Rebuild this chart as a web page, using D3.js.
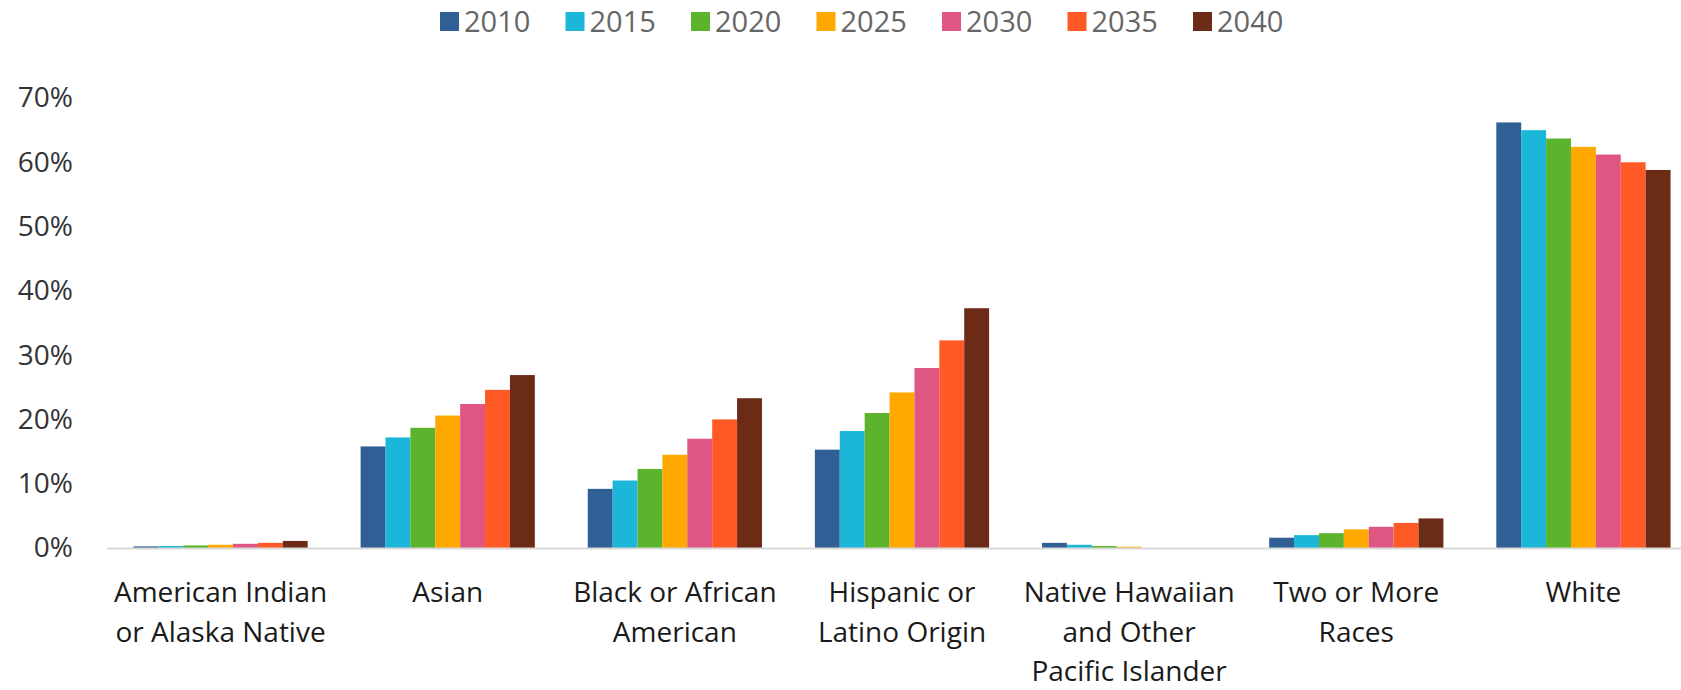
<!DOCTYPE html>
<html>
<head>
<meta charset="utf-8">
<script src="https://cdn.jsdelivr.net/npm/d3@7"></script>
<style>
  html, body { margin: 0; padding: 0; background: #fff; }
  svg { display: block; font-family: "Open Sans", sans-serif; }
</style>
</head>
<body>
<svg id="chart" width="1681" height="690"></svg>
<script>
const categories = [
  ["American Indian", "or Alaska Native"],
  ["Asian"],
  ["Black or African", "American"],
  ["Hispanic or", "Latino Origin"],
  ["Native Hawaiian", "and Other", "Pacific Islander"],
  ["Two or More", "Races"],
  ["White"]
];
const years = ["2010", "2015", "2020", "2025", "2030", "2035", "2040"];
const colors = ["#305f96", "#1bb6d8", "#5bb42b", "#ffa800", "#e05683", "#ff5a25", "#6c2b16"];
// values in percent, one array per category, ordered by year
const americanIndian = [0.25, 0.3, 0.4, 0.5, 0.65, 0.8, 1.1];
const asian = [15.8, 17.2, 18.7, 20.6, 22.4, 24.6, 26.9];
const black = [9.2, 10.5, 12.3, 14.5, 17.0, 20.0, 23.3];
const hispanic = [15.3, 18.2, 21.0, 24.2, 28.0, 32.3, 37.3];
const nativeHawaiian = [0.8, 0.5, 0.3, 0.2, 0, 0, 0];
const twoOrMore = [1.6, 2.0, 2.3, 2.9, 3.3, 3.9, 4.6];
const white = [66.2, 65.0, 63.7, 62.4, 61.2, 60.0, 58.8];
const yTicks = [0, 10, 20, 30, 40, 50, 60, 70];

const seriesByCategory = [americanIndian, asian, black, hispanic, nativeHawaiian, twoOrMore, white];
const catKeys = categories.map(c => c.join(" "));

const svg = d3.select("#chart");
const x0 = d3.scaleBand().domain(catKeys).range([107, 1697]).paddingInner(0.233).paddingOuter(0.1165);
const x1 = d3.scaleBand().domain(years).range([0, x0.bandwidth()]).padding(0);
const y = d3.scaleLinear().domain([0, 70]).range([548, 98]);
const color = d3.scaleOrdinal().domain(years).range(colors);

// y-axis labels (no axis line)
const yAxis = d3.axisLeft(y).tickValues(yTicks).tickFormat(d => d + "%").tickSize(0).tickPadding(0);
const yg = svg.append("g").attr("transform", "translate(73,0)").call(yAxis);
yg.select(".domain").remove();
yg.selectAll("text").attr("font-size", 28).attr("fill", "#333333").attr("font-family", "Open Sans, sans-serif");

// bars
const groups = svg.append("g").selectAll("g").data(catKeys).join("g")
  .attr("transform", d => `translate(${x0(d)},0)`);
groups.selectAll("rect").data((d, i) => years.map((yr, j) => ({ yr, v: seriesByCategory[i][j] })))
  .join("rect")
  .attr("x", d => x1(d.yr))
  .attr("width", x1.bandwidth())
  .attr("y", d => y(d.v))
  .attr("height", d => y(0) - y(d.v))
  .attr("fill", d => color(d.yr));

// baseline
svg.append("line").attr("x1", 107).attr("x2", 1681).attr("y1", y(0) + 0.5).attr("y2", y(0) + 0.5)
  .attr("stroke", "#d9d9d9").attr("stroke-width", 2);

// x-axis category labels
const xg = svg.append("g");
categories.forEach((lines, i) => {
  const cx = x0(catKeys[i]) + x0.bandwidth() / 2;
  const t = xg.append("text").attr("x", cx).attr("y", 602).attr("text-anchor", "middle")
    .attr("font-size", 28).attr("fill", "#1a1a1a");
  lines.forEach((ln, k) => {
    t.append("tspan").attr("x", cx).attr("dy", k === 0 ? 0 : 39.5).text(ln);
  });
});

// legend
const legend = svg.append("g").attr("transform", "translate(440,0)");
const items = legend.selectAll("g").data(years).join("g")
  .attr("transform", (d, i) => `translate(${i * 125.5},0)`);
items.append("rect").attr("x", 0).attr("y", 12).attr("width", 19).attr("height", 19).attr("fill", d => color(d));
items.append("text").attr("x", 24).attr("y", 31.5).attr("font-size", 29).attr("fill", "#666666").text(d => d);
</script>
</body>
</html>
